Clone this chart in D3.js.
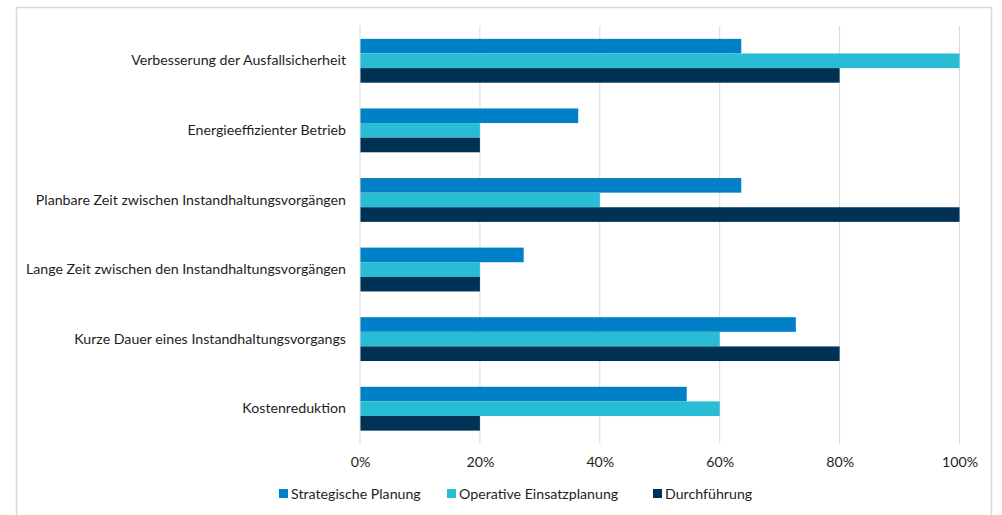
<!DOCTYPE html>
<html>
<head>
<meta charset="utf-8">
<script src="https://cdn.jsdelivr.net/npm/d3@7"></script>
<style>
  html, body { margin: 0; padding: 0; background: #fff; }
  svg { display: block; font-family: Lato, "Noto Sans", sans-serif; }
</style>
</head>
<body>
<svg id="chart" width="1002" height="515"></svg>
<script>
// Categories, top to bottom
const categories = [
  "Verbesserung der Ausfallsicherheit",
  "Energieeffizienter Betrieb",
  "Planbare Zeit zwischen Instandhaltungsvorgängen",
  "Lange Zeit zwischen den Instandhaltungsvorgängen",
  "Kurze Dauer eines Instandhaltungsvorgangs",
  "Kostenreduktion"
];
const seriesNames = ["Strategische Planung", "Operative Einsatzplanung", "Durchführung"];
// Shares in percent per category
const strategische = [63.6, 36.4, 63.6, 27.3, 72.7, 54.5];
const operative    = [100, 20, 40, 20, 60, 60];
const durchfuehrung = [80, 20, 100, 20, 80, 20];
const xTicks = [0, 20, 40, 60, 80, 100];
const colors = ["#0080c6", "#29bcd5", "#003255"];

const seriesValues = [strategische, operative, durchfuehrung];
const textColor = "#1e1e1e";

const svg = d3.select("#chart");

// chart frame
svg.append("rect")
  .attr("x", 16.5).attr("y", 7.5)
  .attr("width", 975).attr("height", 520)
  .attr("fill", "#fff").attr("stroke", "#d9d9d9").attr("stroke-width", 1.5);

const plot = { left: 360, right: 959.5, top: 26, bottom: 443.5 };

const x = d3.scaleLinear().domain([0, 100]).range([plot.left, plot.right]);
const y = d3.scaleBand().domain(categories).range([plot.top, plot.bottom]).paddingInner(0.37).paddingOuter(0.185);
const ySub = d3.scaleBand().domain(d3.range(seriesNames.length)).range([0, y.bandwidth()]);

// vertical gridlines
svg.append("g")
  .selectAll("line")
  .data(xTicks.filter(t => t > 0))
  .join("line")
  .attr("x1", d => x(d)).attr("x2", d => x(d))
  .attr("y1", plot.top).attr("y2", plot.bottom)
  .attr("stroke", "#d9d9d9").attr("stroke-width", 1);

// bars
const groups = svg.append("g")
  .selectAll("g")
  .data(categories)
  .join("g")
  .attr("transform", d => `translate(0,${y(d)})`);

groups.selectAll("rect")
  .data((c, i) => seriesValues.map((vals, s) => ({ s, v: vals[i] })))
  .join("rect")
  .attr("x", x(0))
  .attr("y", d => ySub(d.s))
  .attr("width", d => x(d.v) - x(0))
  .attr("height", ySub.bandwidth())
  .attr("fill", d => colors[d.s]);

// category axis line
svg.append("line")
  .attr("x1", x(0)).attr("x2", x(0))
  .attr("y1", plot.top).attr("y2", plot.bottom)
  .attr("stroke", "#d9d9d9").attr("stroke-width", 1);

// category labels
const yAxis = d3.axisLeft(y).tickSize(0).tickPadding(14);
const yg = svg.append("g").attr("transform", `translate(${x(0)},0)`).call(yAxis);
yg.select(".domain").remove();
yg.selectAll("text")
  .attr("font-size", 14.2).attr("fill", textColor)
  .attr("font-family", "Lato, 'Noto Sans', sans-serif");

// percentage axis
const xAxis = d3.axisBottom(x).tickValues(xTicks).tickSize(0).tickPadding(13).tickFormat(d => d + "%");
const xg = svg.append("g").attr("transform", `translate(0,${plot.bottom})`).call(xAxis);
xg.select(".domain").remove();
xg.selectAll("text")
  .attr("font-size", 14.2).attr("fill", textColor)
  .attr("font-family", "Lato, 'Noto Sans', sans-serif");

// legend
const legendX = [279, 447, 653];
const legend = svg.append("g").selectAll("g")
  .data(seriesNames)
  .join("g")
  .attr("transform", (d, i) => `translate(${legendX[i]},494)`);
legend.append("rect")
  .attr("x", 0).attr("y", -5).attr("width", 9).attr("height", 9)
  .attr("fill", (d, i) => colors[i]);
legend.append("text")
  .attr("x", 12).attr("y", 0).attr("dy", "0.35em")
  .attr("font-size", 14.2).attr("fill", textColor)
  .text(d => d);
</script>
</body>
</html>
